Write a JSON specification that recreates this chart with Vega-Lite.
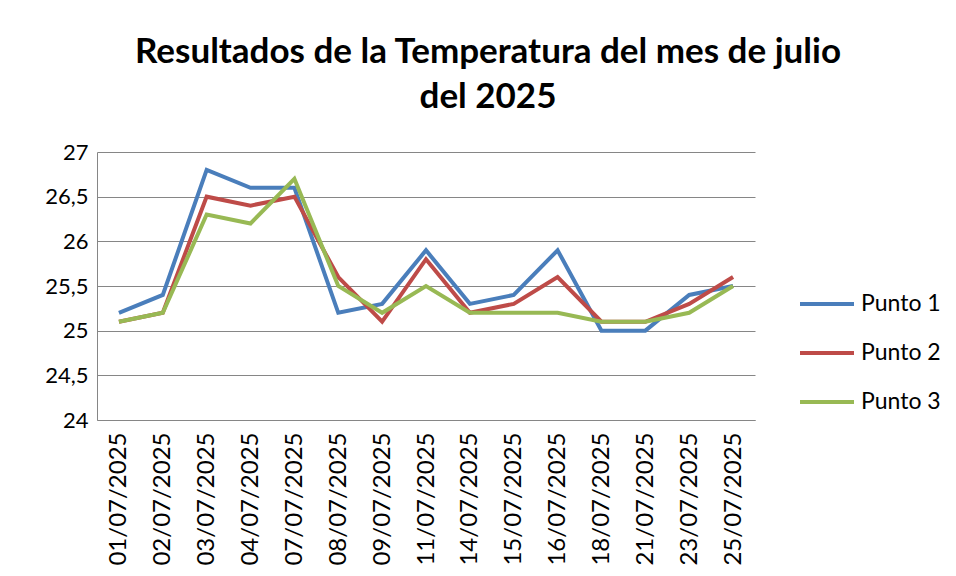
{
  "$schema": "https://vega.github.io/schema/vega-lite/v6.json",
  "width": 658,
  "height": 268,
  "autosize": {"type": "none"},
  "padding": {"left": 97, "top": 152, "right": 201, "bottom": 156},
  "background": "white",
  "title": {
    "text": ["Resultados de la Temperatura  del mes de julio", "del 2025"],
    "fontSize": 35,
    "fontWeight": "bold",
    "font": "Lato",
    "color": "#000000",
    "anchor": "middle",
    "frame": "group",
    "dx": 62,
    "lineHeight": 45,
    "offset": 26
  },
  "data": {
    "values": [
      {"fecha": "01/07/2025", "serie": "Punto 1", "valor": 25.2},
      {"fecha": "02/07/2025", "serie": "Punto 1", "valor": 25.4},
      {"fecha": "03/07/2025", "serie": "Punto 1", "valor": 26.8},
      {"fecha": "04/07/2025", "serie": "Punto 1", "valor": 26.6},
      {"fecha": "07/07/2025", "serie": "Punto 1", "valor": 26.6},
      {"fecha": "08/07/2025", "serie": "Punto 1", "valor": 25.2},
      {"fecha": "09/07/2025", "serie": "Punto 1", "valor": 25.3},
      {"fecha": "11/07/2025", "serie": "Punto 1", "valor": 25.9},
      {"fecha": "14/07/2025", "serie": "Punto 1", "valor": 25.3},
      {"fecha": "15/07/2025", "serie": "Punto 1", "valor": 25.4},
      {"fecha": "16/07/2025", "serie": "Punto 1", "valor": 25.9},
      {"fecha": "18/07/2025", "serie": "Punto 1", "valor": 25.0},
      {"fecha": "21/07/2025", "serie": "Punto 1", "valor": 25.0},
      {"fecha": "23/07/2025", "serie": "Punto 1", "valor": 25.4},
      {"fecha": "25/07/2025", "serie": "Punto 1", "valor": 25.5},
      {"fecha": "01/07/2025", "serie": "Punto 2", "valor": 25.1},
      {"fecha": "02/07/2025", "serie": "Punto 2", "valor": 25.2},
      {"fecha": "03/07/2025", "serie": "Punto 2", "valor": 26.5},
      {"fecha": "04/07/2025", "serie": "Punto 2", "valor": 26.4},
      {"fecha": "07/07/2025", "serie": "Punto 2", "valor": 26.5},
      {"fecha": "08/07/2025", "serie": "Punto 2", "valor": 25.6},
      {"fecha": "09/07/2025", "serie": "Punto 2", "valor": 25.1},
      {"fecha": "11/07/2025", "serie": "Punto 2", "valor": 25.8},
      {"fecha": "14/07/2025", "serie": "Punto 2", "valor": 25.2},
      {"fecha": "15/07/2025", "serie": "Punto 2", "valor": 25.3},
      {"fecha": "16/07/2025", "serie": "Punto 2", "valor": 25.6},
      {"fecha": "18/07/2025", "serie": "Punto 2", "valor": 25.1},
      {"fecha": "21/07/2025", "serie": "Punto 2", "valor": 25.1},
      {"fecha": "23/07/2025", "serie": "Punto 2", "valor": 25.3},
      {"fecha": "25/07/2025", "serie": "Punto 2", "valor": 25.6},
      {"fecha": "01/07/2025", "serie": "Punto 3", "valor": 25.1},
      {"fecha": "02/07/2025", "serie": "Punto 3", "valor": 25.2},
      {"fecha": "03/07/2025", "serie": "Punto 3", "valor": 26.3},
      {"fecha": "04/07/2025", "serie": "Punto 3", "valor": 26.2},
      {"fecha": "07/07/2025", "serie": "Punto 3", "valor": 26.7},
      {"fecha": "08/07/2025", "serie": "Punto 3", "valor": 25.5},
      {"fecha": "09/07/2025", "serie": "Punto 3", "valor": 25.2},
      {"fecha": "11/07/2025", "serie": "Punto 3", "valor": 25.5},
      {"fecha": "14/07/2025", "serie": "Punto 3", "valor": 25.2},
      {"fecha": "15/07/2025", "serie": "Punto 3", "valor": 25.2},
      {"fecha": "16/07/2025", "serie": "Punto 3", "valor": 25.2},
      {"fecha": "18/07/2025", "serie": "Punto 3", "valor": 25.1},
      {"fecha": "21/07/2025", "serie": "Punto 3", "valor": 25.1},
      {"fecha": "23/07/2025", "serie": "Punto 3", "valor": 25.2},
      {"fecha": "25/07/2025", "serie": "Punto 3", "valor": 25.5}
    ]
  },
  "mark": {"type": "line", "strokeWidth": 4, "strokeJoin": "miter", "strokeCap": "butt"},
  "encoding": {
    "x": {
      "field": "fecha",
      "type": "ordinal",
      "sort": null,
      "bandPosition": 0.5,
      "scale": {"type": "band", "paddingInner": 0, "paddingOuter": 0},
      "axis": {
        "title": null,
        "labelAngle": -90,
        "labelFont": "Lato",
        "labelFontSize": 24,
        "labelColor": "#000000",
        "labelPadding": 12,
        "ticks": false,
        "domain": true,
        "domainColor": "#868686",
        "grid": false,
        "tickBand": "extent"
      }
    },
    "y": {
      "field": "valor",
      "type": "quantitative",
      "scale": {"domain": [24, 27], "nice": false, "zero": false},
      "axis": {
        "title": null,
        "values": [24, 24.5, 25, 25.5, 26, 26.5, 27],
        "format": ".1~f",
        "labelExpr": "replace(datum.label, '.', ',')",
        "labelFont": "Lato",
        "labelFontSize": 22,
        "labelColor": "#000000",
        "labelPadding": 9,
        "ticks": false,
        "domain": true,
        "domainColor": "#868686",
        "grid": true,
        "gridColor": "#868686",
        "gridWidth": 1
      }
    },
    "color": {
      "field": "serie",
      "type": "nominal",
      "scale": {"domain": ["Punto 1", "Punto 2", "Punto 3"], "range": ["#4A7EBB", "#BE4B48", "#98B954"]},
      "legend": {
        "title": null,
        "orient": "none",
        "legendX": 701,
        "legendY": 123,
        "symbolType": "stroke",
        "symbolStrokeWidth": 4,
        "symbolSize": 2916,
        "labelFont": "Lato",
        "labelFontSize": 23,
        "labelColor": "#000000",
        "labelOffset": 5,
        "rowPadding": 8
      }
    }
  },
  "config": {
    "view": {"stroke": null}
  }
}
